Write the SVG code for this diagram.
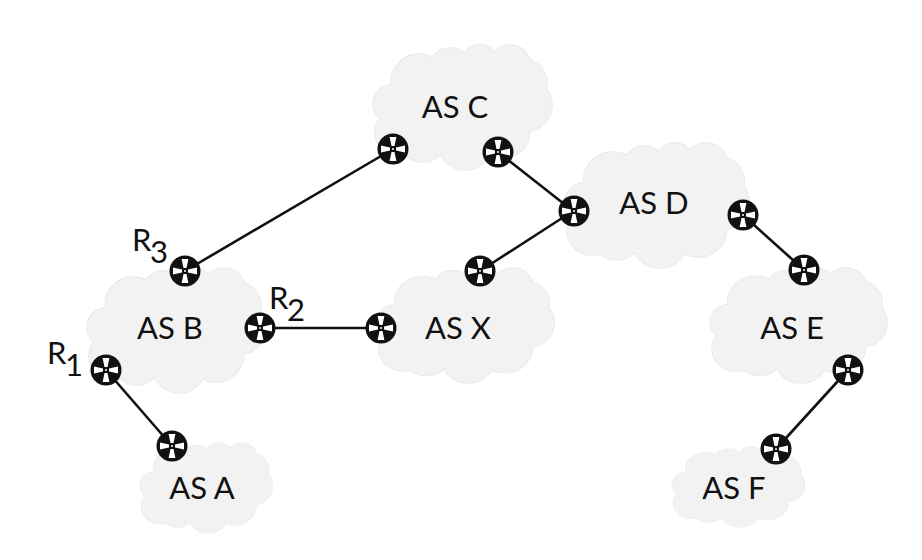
<svg xmlns="http://www.w3.org/2000/svg" width="922" height="560" viewBox="0 0 922 560">
<style>
text{font-family:"Lato","Open Sans",sans-serif;font-size:31px;fill:#111}
.o circle{fill:#f2f2f2;stroke:#e6e6e6;stroke-width:1.4}
.i circle,.i ellipse{fill:#f2f2f2}
.l line{stroke:#111;stroke-width:2.6}
</style>
<defs>
<g id="cloud">
<g class="o"><circle cx="46" cy="37" r="28"/><circle cx="77" cy="25" r="22"/><circle cx="107" cy="19" r="19"/><circle cx="137" cy="21" r="21"/><circle cx="150" cy="38" r="24"/><circle cx="153" cy="60" r="26"/><circle cx="19" cy="59" r="19"/><circle cx="26" cy="88" r="24"/><circle cx="50" cy="93" r="24"/><circle cx="92" cy="98" r="27"/><circle cx="129" cy="86" r="28"/></g>
<g class="i"><circle cx="46" cy="37" r="28"/><circle cx="77" cy="25" r="22"/><circle cx="107" cy="19" r="19"/><circle cx="137" cy="21" r="21"/><circle cx="150" cy="38" r="24"/><circle cx="153" cy="60" r="26"/><circle cx="19" cy="59" r="19"/><circle cx="26" cy="88" r="24"/><circle cx="50" cy="93" r="24"/><circle cx="92" cy="98" r="27"/><circle cx="129" cy="86" r="28"/><ellipse cx="88" cy="60" rx="68" ry="46"/></g>
</g>
<g id="router">
<circle r="15.5" fill="#111"/>
<path fill="#fff" d="M-3.4-12H3.4L1.5-3H-1.5ZM-3.4 12H3.4L1.5 3H-1.5ZM-12-3.4V3.4L-3 1.5V-1.5ZM12-3.4V3.4L3 1.5V-1.5Z"/>
<circle r="1" fill="#fff"/>
</g>
</defs>
<rect width="922" height="560" fill="#fff"/>
<g id="as-c"><use href="#cloud" transform="translate(373 45)"/><text x="455" y="118" text-anchor="middle">AS C</text></g>
<g id="as-d"><use href="#cloud" transform="translate(565 143) scale(1.03 1)"/><text x="654" y="214" text-anchor="middle">AS D</text></g>
<g id="as-b"><use href="#cloud" transform="translate(87 268)"/><text x="170" y="339" text-anchor="middle">AS B</text></g>
<g id="as-x"><use href="#cloud" transform="translate(377 268) scale(.99 .92)"/><text x="458" y="339" text-anchor="middle">AS X</text></g>
<g id="as-e"><use href="#cloud" transform="translate(710 268) scale(.99 .92)"/><text x="792" y="339" text-anchor="middle">AS E</text></g>
<g id="as-a"><use href="#cloud" transform="translate(140 443) scale(.74 .72)"/><text x="202" y="499" text-anchor="middle">AS A</text></g>
<g id="as-f"><use href="#cloud" transform="translate(672 447) scale(.74 .64)"/><text x="734" y="499" text-anchor="middle">AS F</text></g>
<g id="connectors" class="l">
<line x1="393" y1="149" x2="185" y2="271"/>
<line x1="498" y1="152" x2="573" y2="211"/>
<line x1="573" y1="211" x2="480" y2="271"/>
<line x1="743" y1="215" x2="804" y2="270"/>
<line x1="260" y1="328" x2="381" y2="328"/>
<line x1="106" y1="370" x2="172" y2="446"/>
<line x1="848" y1="370" x2="776" y2="449"/>
</g>
<g id="r-c1"><use href="#router" x="393" y="149"/></g>
<g id="r-c2"><use href="#router" x="498" y="152"/></g>
<g id="r-d1"><use href="#router" x="574" y="211"/></g>
<g id="r-x1"><use href="#router" x="480" y="271"/></g>
<g id="r-d2"><use href="#router" x="743" y="215"/></g>
<g id="r-e1"><use href="#router" x="804" y="270"/></g>
<g id="r3"><use href="#router" x="185" y="271"/><text x="132" y="251">R</text><text x="150" y="263">3</text></g>
<g id="r2"><use href="#router" x="260" y="328"/><text x="269" y="309">R</text><text x="287" y="321">2</text></g>
<g id="r-x2"><use href="#router" x="381" y="328"/></g>
<g id="r1"><use href="#router" x="106" y="370"/><text x="47" y="364">R</text><text x="65" y="376">1</text></g>
<g id="r-a"><use href="#router" x="172" y="446"/></g>
<g id="r-e2"><use href="#router" x="848" y="370"/></g>
<g id="r-f"><use href="#router" x="776" y="449"/></g>
</svg>
